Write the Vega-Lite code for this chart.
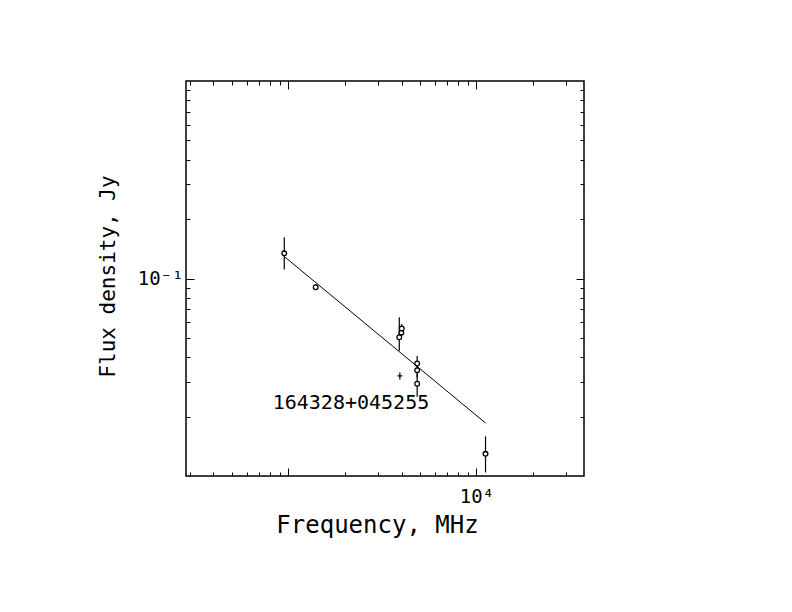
{
  "$schema": "https://vega.github.io/schema/vega-lite/v6.json",
  "description": "Radio spectrum of 164328+045255, flux density vs frequency",
  "autosize": "none",
  "padding": {"left": 186, "top": 81, "right": 208, "bottom": 136},
  "width": 398,
  "height": 395,
  "background": "#ffffff",
  "config": {
    "view": {"stroke": "black", "strokeWidth": 1.5},
    "axis": {
      "domain": false,
      "grid": false,
      "tickColor": "black",
      "tickWidth": 1,
      "labelColor": "black",
      "titleColor": "black",
      "labelFont": "DejaVu Sans Mono",
      "titleFont": "DejaVu Sans Mono",
      "titleFontWeight": "normal",
      "labelOverlap": false,
      "labelFlush": false,
      "labelBound": false
    }
  },
  "datasets": {
    "points": [
      {"freq": 952, "flux": 0.1341, "lo": 0.1111, "hi": 0.1618, "sym": "circle"},
      {"freq": 1398, "flux": 0.0903, "lo": 0.0875, "hi": 0.0932, "sym": "circle"},
      {"freq": 3890, "flux": 0.0504, "lo": 0.0431, "hi": 0.0636, "sym": "circle"},
      {"freq": 3990, "flux": 0.0532, "lo": 0.0505, "hi": 0.056, "sym": "circle"},
      {"freq": 4010, "flux": 0.0558, "lo": 0.053, "hi": 0.0588, "sym": "circle"},
      {"freq": 3918, "flux": 0.0321, "lo": 0.0321, "hi": 0.0321, "sym": "cross"},
      {"freq": 4842, "flux": 0.0371, "lo": 0.034, "hi": 0.0405, "sym": "circle"},
      {"freq": 4842, "flux": 0.0343, "lo": 0.0315, "hi": 0.0375, "sym": "circle"},
      {"freq": 4842, "flux": 0.0293, "lo": 0.0252, "hi": 0.033, "sym": "circle"},
      {"freq": 11177, "flux": 0.01295, "lo": 0.01043, "hi": 0.01587, "sym": "circle"}
    ],
    "fit": [
      {"freq": 952, "flux": 0.1292},
      {"freq": 11177, "flux": 0.01855}
    ],
    "label": [
      {"freq": 2153, "flux": 0.0235, "name": "164328+045255"}
    ]
  },
  "layer": [
    {
      "data": {"name": "points"},
      "mark": {"type": "rule", "color": "black", "strokeWidth": 1.2},
      "encoding": {
        "x": {
          "field": "freq", "type": "quantitative",
          "scale": {"type": "log", "domain": [286, 37300], "nice": false},
          "axis": {
            "orient": "bottom", "title": null, "labels": false, "tickSize": -4,
            "values": [300, 400, 500, 600, 700, 800, 900, 2000, 3000, 4000, 5000, 6000, 7000, 8000, 9000, 20000, 30000]
          }
        },
        "y": {
          "field": "lo", "type": "quantitative",
          "scale": {"type": "log", "domain": [0.01, 1], "nice": false},
          "axis": {
            "orient": "left", "title": null, "labels": false, "tickSize": -4,
            "values": [0.02, 0.03, 0.04, 0.05, 0.06, 0.07, 0.08, 0.09, 0.2, 0.3, 0.4, 0.5, 0.6, 0.7, 0.8, 0.9]
          }
        },
        "y2": {"field": "hi"}
      }
    },
    {
      "data": {"name": "fit"},
      "mark": {"type": "line", "color": "black", "strokeWidth": 1},
      "encoding": {
        "x": {
          "field": "freq", "type": "quantitative",
          "scale": {"type": "log", "domain": [286, 37300], "nice": false},
          "axis": {
            "orient": "bottom", "tickSize": -8, "labelPadding": 19,
            "values": [1000, 10000],
            "labelExpr": "datum.value == 10000 ? '10⁴' : ''",
            "labelFontSize": 19, "labelBaseline": "top", "labelDx": 4,
            "title": "Frequency, MHz", "titleFontSize": 24,
            "titleX": 191, "titleY": 56, "titleBaseline": "alphabetic"
          }
        },
        "y": {
          "field": "flux", "type": "quantitative",
          "scale": {"type": "log", "domain": [0.01, 1], "nice": false},
          "axis": {
            "orient": "left", "tickSize": -8, "labelPadding": 11,
            "values": [0.1],
            "labelExpr": "'10⁻¹'",
            "labelFontSize": 19, "labelDy": -2,
            "title": "Flux density, Jy", "titleFontSize": 21,
            "titleX": -72, "titleY": 195, "titleBaseline": "alphabetic"
          }
        }
      }
    },
    {
      "data": {"name": "points"},
      "transform": [{"filter": "datum.sym == 'circle'"}],
      "mark": {"type": "point", "shape": "circle", "filled": false, "fill": "white", "color": "black", "strokeWidth": 1.3, "size": 22, "opacity": 1},
      "encoding": {
        "x": {
          "field": "freq", "type": "quantitative",
          "scale": {"type": "log", "domain": [286, 37300], "nice": false},
          "axis": {
            "orient": "top", "title": null, "labels": false, "tickSize": -4,
            "values": [300, 400, 500, 600, 700, 800, 900, 2000, 3000, 4000, 5000, 6000, 7000, 8000, 9000, 20000, 30000]
          }
        },
        "y": {
          "field": "flux", "type": "quantitative",
          "scale": {"type": "log", "domain": [0.01, 1], "nice": false},
          "axis": {
            "orient": "right", "title": null, "labels": false, "tickSize": -4,
            "values": [0.02, 0.03, 0.04, 0.05, 0.06, 0.07, 0.08, 0.09, 0.2, 0.3, 0.4, 0.5, 0.6, 0.7, 0.8, 0.9]
          }
        }
      }
    },
    {
      "data": {"name": "points"},
      "transform": [{"filter": "datum.sym == 'cross'"}],
      "mark": {"type": "point", "shape": "M-0.7,0H0.7M0,-1V1", "filled": false, "color": "black", "strokeWidth": 1.2, "size": 49, "opacity": 1},
      "encoding": {
        "x": {
          "field": "freq", "type": "quantitative",
          "scale": {"type": "log", "domain": [286, 37300], "nice": false},
          "axis": {"orient": "top", "title": null, "labels": false, "tickSize": -8, "values": [1000, 10000]}
        },
        "y": {
          "field": "flux", "type": "quantitative",
          "scale": {"type": "log", "domain": [0.01, 1], "nice": false},
          "axis": {"orient": "right", "title": null, "labels": false, "tickSize": -8, "values": [0.1]}
        }
      }
    },
    {
      "data": {"name": "label"},
      "mark": {"type": "text", "font": "DejaVu Sans Mono", "fontSize": 20, "color": "black", "align": "center", "baseline": "middle"},
      "encoding": {
        "x": {"field": "freq", "type": "quantitative", "scale": {"type": "log", "domain": [286, 37300], "nice": false}, "axis": null},
        "y": {"field": "flux", "type": "quantitative", "scale": {"type": "log", "domain": [0.01, 1], "nice": false}, "axis": null},
        "text": {"field": "name"}
      }
    }
  ],
  "resolve": {"axis": {"x": "independent", "y": "independent"}}
}
